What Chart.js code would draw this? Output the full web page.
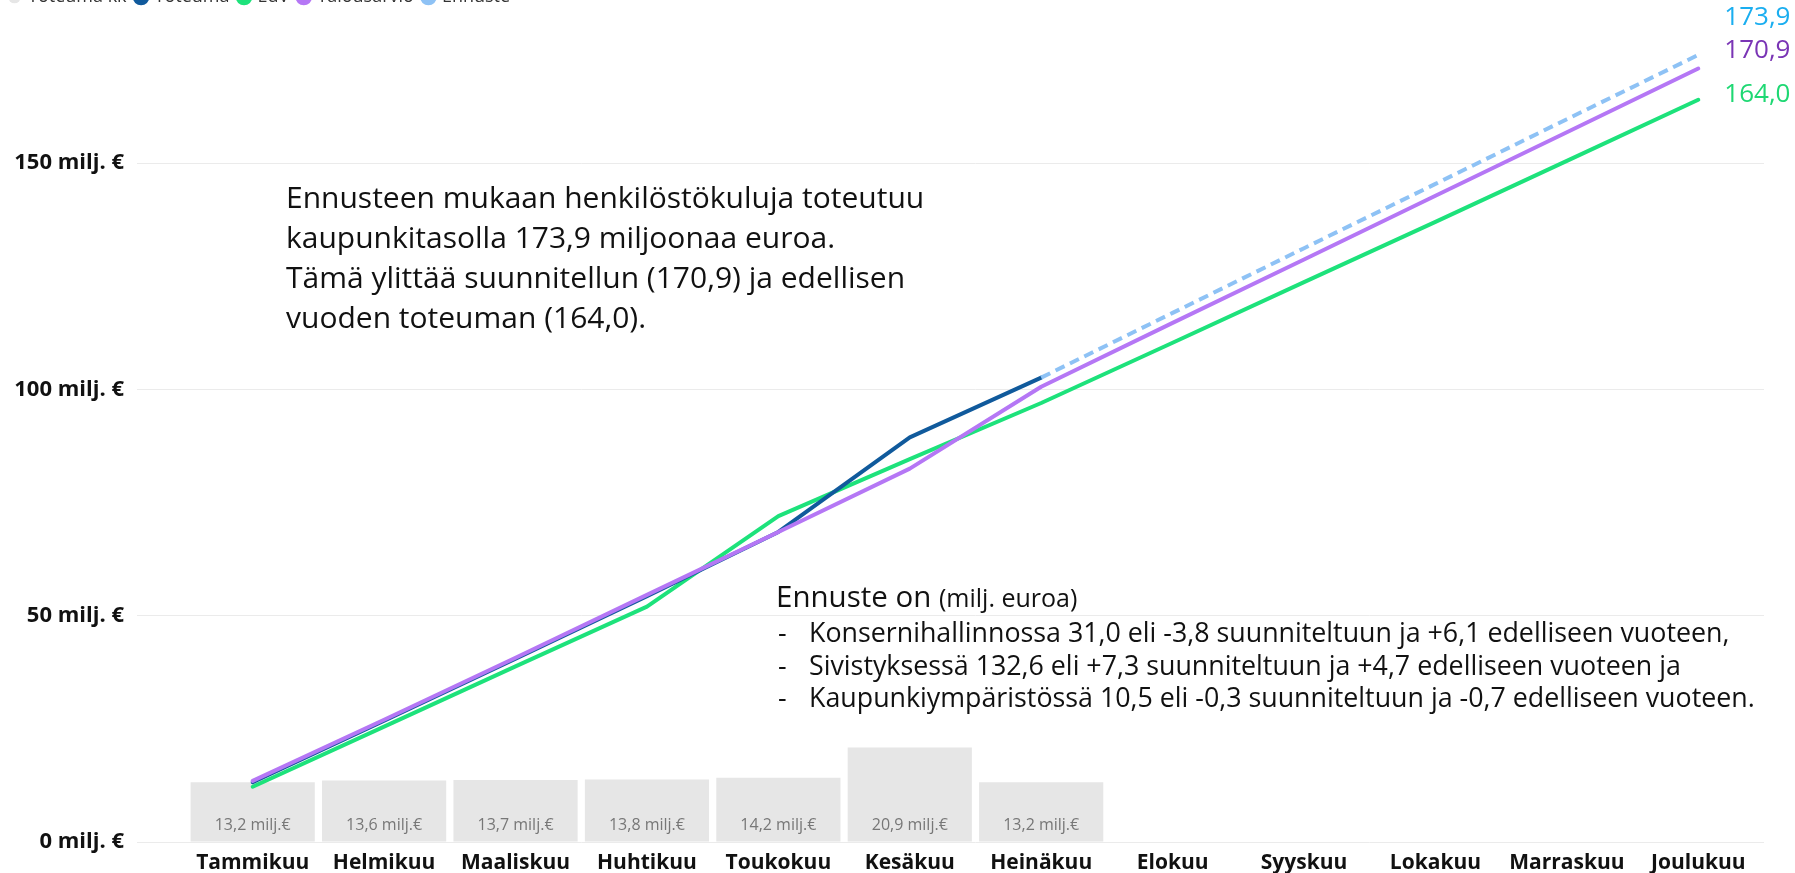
<!DOCTYPE html>
<html lang="fi">
<head>
<meta charset="utf-8">
<title>Henkilöstökulut</title>
<script src="https://cdn.jsdelivr.net/npm/chart.js@4.4.1/dist/chart.umd.min.js"></script>
<style>
  html, body { margin: 0; padding: 0; background: #fff; overflow: hidden; }
  #wrap { position: relative; width: 1795px; height: 873px; overflow: hidden; }
  #kaavio { position: absolute; left: 0; top: -22px; }
  .teksti { position: absolute; font-family: "Open Sans", sans-serif; color: #111; white-space: nowrap; }
  #huom1 { left: 286px; top: 177px; font-size: 30px; line-height: 40px; }
  #huom2 { left: 776px; top: 576px; font-size: 29.5px; line-height: 40px; }
  #huom2 small { font-size: 25px; }
  #luettelo { left: 778px; top: 616px; font-size: 26.8px; line-height: 32.5px; }
  #luettelo div { position: relative; padding-left: 31px; }
  #luettelo div::before { content: "-"; position: absolute; left: 0; }
</style>
</head>
<body>
<div id="wrap">
  <canvas id="kaavio" width="1795" height="895"></canvas>
  <div class="teksti" id="huom1">
    Ennusteen mukaan henkilöstökuluja toteutuu<br>
    kaupunkitasolla 173,9 miljoonaa euroa.<br>
    Tämä ylittää suunnitellun (170,9) ja edellisen<br>
    vuoden toteuman (164,0).
  </div>
  <div class="teksti" id="huom2">Ennuste on <small>(milj. euroa)</small></div>
  <div class="teksti" id="luettelo">
    <div>Konsernihallinnossa 31,0 eli -3,8 suunniteltuun ja +6,1 edelliseen vuoteen,</div>
    <div>Sivistyksessä 132,6 eli +7,3 suunniteltuun ja +4,7 edelliseen vuoteen ja</div>
    <div>Kaupunkiympäristössä 10,5 eli -0,3 suunniteltuun ja -0,7 edelliseen vuoteen.</div>
  </div>
</div>

<script>
// kuukaudet ja sarjat (milj. €)
const kuukaudet = ['Tammikuu', 'Helmikuu', 'Maaliskuu', 'Huhtikuu', 'Toukokuu', 'Kesäkuu',
                   'Heinäkuu', 'Elokuu', 'Syyskuu', 'Lokakuu', 'Marraskuu', 'Joulukuu'];
const toteumaKk      = [13.2, 13.6, 13.7, 13.8, 14.2, 20.9, 13.2, null, null, null, null, null];
const toteuma        = [13.2, 26.8, 40.5, 54.3, 68.5, 89.4, 102.6, null, null, null, null, null];
const edellinenVuosi = [12.2, 25.5, 38.8, 52.0, 72.0, 84.6, 97.0, 110.3, 123.7, 137.0, 150.5, 164.0];
const talousarvio    = [13.5, 27.0, 40.7, 54.6, 68.5, 82.5, 100.6, 114.7, 128.7, 142.8, 156.8, 170.9];
const ennuste        = [null, null, null, null, null, null, 102.6, 116.9, 131.2, 145.4, 159.7, 173.9];
const yTikit         = [0, 50, 100, 150];
const Y_MAX = 182.5;

const fmt = v => v.toFixed(1).replace('.', ',');

// "13,2 milj.€" pylväiden sisään
const pylvasArvot = {
  id: 'pylvasArvot',
  afterDatasetsDraw(chart) {
    const { ctx } = chart;
    const y0 = chart.scales.y.getPixelForValue(0);
    ctx.save();
    ctx.font = '16px "Open Sans", sans-serif';
    ctx.fillStyle = '#777';
    ctx.textAlign = 'center';
    ctx.textBaseline = 'middle';
    chart.getDatasetMeta(0).data.forEach((bar, i) => {
      if (toteumaKk[i] == null) return;
      ctx.fillText(fmt(toteumaKk[i]) + ' milj.€', bar.x, y0 - 17);
    });
    ctx.restore();
  }
};

// loppuarvot oikeaan reunaan
const loppuArvot = {
  id: 'loppuArvot',
  afterDatasetsDraw(chart) {
    const { ctx, scales: { x, y } } = chart;
    const viim = kuukaudet.length - 1;
    const rivit = [
      { arvo: ennuste[viim],        vari: '#1aaef0', siirto: -37 },
      { arvo: talousarvio[viim],    vari: '#7a35b5', siirto: -18 },
      { arvo: edellinenVuosi[viim], vari: '#1ed873', siirto: -5 },
    ];
    ctx.save();
    ctx.font = '26px "Open Sans", sans-serif';
    ctx.textAlign = 'left';
    ctx.textBaseline = 'middle';
    rivit.forEach(r => {
      ctx.fillStyle = r.vari;
      ctx.fillText(fmt(r.arvo), x.getPixelForValue(viim) + 26, y.getPixelForValue(r.arvo) + r.siirto);
    });
    ctx.restore();
  }
};

const viiva = (label, data, color, order, extra) => Object.assign({
  type: 'line', label, data, order,
  borderColor: color, backgroundColor: color,
  borderWidth: 4, pointRadius: 0, tension: 0,
  borderJoinStyle: 'round', borderCapStyle: 'round', spanGaps: false,
}, extra || {});

new Chart(document.getElementById('kaavio'), {
  type: 'bar',
  data: {
    labels: kuukaudet,
    datasets: [
      {
        label: 'Toteuma kk', data: toteumaKk, order: 10,
        backgroundColor: '#e6e6e6',
        barPercentage: 0.945, categoryPercentage: 1,
      },
      viiva('Toteuma', toteuma, '#105a9c', 3),
      viiva('EdV', edellinenVuosi, '#1de27b', 4),
      viiva('Talousarvio', talousarvio, '#b577f5', 2),
      viiva('Ennuste', ennuste, '#8ec2f5', 1, { borderDash: [10, 6], borderCapStyle: 'butt' }),
    ]
  },
  options: {
    responsive: false,
    animation: false,
    layout: { padding: { left: 0, right: 31, top: 0, bottom: 0 } },
    plugins: {
      legend: {
        position: 'top',
        align: 'start',
        labels: {
          usePointStyle: true, pointStyle: 'circle', boxWidth: 9, boxHeight: 9,
          font: { family: '"Open Sans", sans-serif', size: 18 },
          color: '#333', padding: 10,
          sort: (a, b) => a.datasetIndex - b.datasetIndex,
        }
      },
      tooltip: { enabled: false },
    },
    scales: {
      x: {
        grid: { display: false, drawTicks: false },
        border: { display: false },
        ticks: {
          color: '#111', padding: 8, maxRotation: 0,
          font: { family: '"Open Sans", sans-serif', size: 21, weight: 'bold' },
        },
        afterFit: s => { s.height = 31; },
      },
      y: {
        min: 0, max: Y_MAX,
        border: { display: false },
        grid: { color: '#ebebeb', lineWidth: 1, drawTicks: true, tickLength: 50 },
        afterBuildTicks: s => { s.ticks = yTikit.map(v => ({ value: v })); },
        afterFit: s => { s.width = 187; },
        ticks: {
          color: '#111', padding: 13,
          font: { family: '"Open Sans", sans-serif', size: 22, weight: 'bold' },
          callback: v => v + ' milj. €',
        },
      }
    }
  },
  plugins: [pylvasArvot, loppuArvot]
});
</script>
</body>
</html>
